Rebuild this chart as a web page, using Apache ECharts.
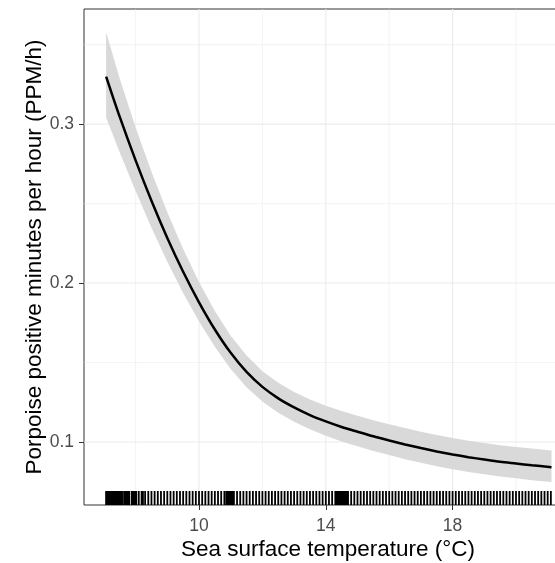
<!DOCTYPE html>
<html>
<head>
<meta charset="utf-8">
<script src="https://cdn.jsdelivr.net/npm/echarts@6/dist/echarts.min.js"></script>
<style>
  html, body { margin: 0; padding: 0; background: #fff; }
  #chart { width: 555px; height: 563px; }
</style>
</head>
<body>
<div id="chart"></div>
<script>
// fitted curve and its confidence band
const temps = [7.07, 7.5, 8, 8.5, 9, 9.5, 10, 10.5, 11, 11.5, 12, 12.5, 13, 13.5, 14, 14.5, 15, 15.5, 16, 16.5, 17, 17.5, 18, 18.5, 19, 19.5, 20, 20.5, 21.12]
const fit = [0.3299, 0.3045, 0.2772, 0.2518, 0.2284, 0.2071, 0.1879, 0.1708, 0.1561, 0.1441, 0.1347, 0.1275, 0.1218, 0.1170, 0.1130, 0.1095, 0.1065, 0.1036, 0.1010, 0.0985, 0.0962, 0.0941, 0.0922, 0.0905, 0.0890, 0.0876, 0.0865, 0.0854, 0.0842]
const upper = [0.3577, 0.3286, 0.2979, 0.2701, 0.2445, 0.2215, 0.2007, 0.1824, 0.1669, 0.1544, 0.1446, 0.1373, 0.1315, 0.1267, 0.1228, 0.1195, 0.1165, 0.1137, 0.1112, 0.1088, 0.1065, 0.1044, 0.1025, 0.1008, 0.0994, 0.0980, 0.0969, 0.0959, 0.0947]
const lower = [0.3042, 0.2822, 0.2579, 0.2348, 0.2134, 0.1937, 0.1759, 0.1599, 0.1460, 0.1345, 0.1255, 0.1184, 0.1128, 0.1080, 0.1040, 0.1004, 0.0973, 0.0944, 0.0918, 0.0892, 0.0869, 0.0848, 0.0829, 0.0812, 0.0797, 0.0783, 0.0772, 0.0760, 0.0748]

// rug of observed temperatures
const rugX = [
  7.1, 7.2, 7.3, 7.4, 7.5, 7.6, 7.7, 7.8, 7.9, 8.0,
  8.1, 8.2, 8.3, 8.4, 8.5, 8.6, 8.7, 8.8, 8.9, 9.0,
  9.1, 9.2, 9.3, 9.4, 9.5, 9.6, 9.7, 9.8, 9.9, 10.0,
  10.1, 10.2, 10.3, 10.4, 10.5, 10.6, 10.7, 10.8, 10.9, 11.0,
  11.1, 11.2, 11.3, 11.4, 11.5, 11.6, 11.7, 11.8, 11.9, 12.0,
  12.1, 12.2, 12.3, 12.4, 12.5, 12.6, 12.7, 12.8, 12.9, 13.0,
  13.1, 13.2, 13.3, 13.4, 13.5, 13.6, 13.7, 13.8, 13.9, 14.0,
  14.1, 14.2, 14.3, 14.4, 14.5, 14.6, 14.7, 14.8, 14.9, 15.0,
  15.1, 15.2, 15.3, 15.4, 15.5, 15.6, 15.7, 15.8, 15.9, 16.0,
  16.1, 16.2, 16.3, 16.4, 16.5, 16.6, 16.7, 16.8, 16.9, 17.0,
  17.1, 17.2, 17.3, 17.4, 17.5, 17.6, 17.7, 17.8, 17.9, 18.0,
  18.1, 18.2, 18.3, 18.4, 18.5, 18.6, 18.7, 18.8, 18.9, 19.0,
  19.1, 19.2, 19.3, 19.4, 19.5, 19.6, 19.7, 19.8, 19.9, 20.0,
  20.1, 20.2, 20.3, 20.4, 20.5, 20.6, 20.7, 20.8, 20.9, 21.0,
  21.1
]
// stretches where the rug is solid black
const rugBlocks = [[7.04, 7.58], [7.63, 7.82], [7.85, 8.05], [8.16, 8.26], [10.83, 11.11], [14.29, 14.72]]

// axis ticks and grid
const xTicks = [10, 14, 18]
const yTicks = [0.1, 0.2, 0.3]
const xMinor = [8, 12, 16, 20]
const yMinor = [0.15, 0.25, 0.35]

const font = '"Liberation Sans", Arial, sans-serif'
const chart = echarts.init(document.getElementById('chart'))

function gridLines(vals, dir, width) {
  return {
    type: 'custom',
    z: 1,
    silent: true,
    data: vals.map(v => [v]),
    renderItem: (params, api) => {
      const cs = params.coordSys
      let shape
      if (dir === 'x') {
        const p = api.coord([api.value(0), 0.2])
        shape = { x1: p[0], y1: cs.y, x2: p[0], y2: cs.y + cs.height }
      } else {
        const p = api.coord([10, api.value(0)])
        shape = { x1: cs.x, y1: p[1], x2: cs.x + cs.width, y2: p[1] }
      }
      return { type: 'line', shape: shape, style: { stroke: '#ebebeb', lineWidth: width } }
    }
  }
}

chart.setOption({
  backgroundColor: '#fff',
  animation: false,
  grid: {
    left: 84, top: 9, width: 488, bottom: 58,
    outerBoundsMode: 'none',
    containLabel: false,
    show: true, borderColor: '#333', borderWidth: 1, backgroundColor: 'transparent'
  },
  xAxis: {
    type: 'value',
    min: 6.372,
    max: 21.767,
    name: 'Sea surface temperature (°C)',
    nameLocation: 'middle',
    nameGap: 33,
    nameMoveOverlap: false,
    nameTextStyle: { fontFamily: font, fontSize: 22.5, color: '#000' },
    axisLine: { show: false },
    axisTick: { show: true, customValues: xTicks, length: 5, lineStyle: { color: '#333', width: 1 } },
    axisLabel: { customValues: xTicks, margin: 12, fontFamily: font, fontSize: 17.5, color: '#4d4d4d' },
    splitLine: { show: false }
  },
  yAxis: {
    type: 'value',
    min: 0.0604,
    max: 0.3724,
    name: 'Porpoise positive minutes per hour (PPM/h)',
    nameLocation: 'middle',
    nameGap: 38,
    nameRotate: 90,
    nameMoveOverlap: false,
    nameTextStyle: { fontFamily: font, fontSize: 22.5, color: '#000' },
    axisLine: { show: false },
    axisTick: { show: true, customValues: yTicks, length: 5, lineStyle: { color: '#333', width: 1 } },
    axisLabel: { customValues: yTicks, margin: 10, fontFamily: font, fontSize: 17.5, color: '#4d4d4d',
      formatter: v => v.toFixed(1) },
    splitLine: { show: false }
  },
  series: [
    gridLines(xMinor, 'x', 0.6),
    gridLines(yMinor, 'y', 0.6),
    gridLines(xTicks, 'x', 1.1),
    gridLines(yTicks, 'y', 1.1),
    {
      // confidence ribbon
      type: 'custom',
      z: 2,
      silent: true,
      data: [[temps[0], fit[0]]],
      renderItem: (params, api) => {
        const pts = []
        for (let i = 0; i < temps.length; i++) pts.push(api.coord([temps[i], upper[i]]))
        for (let i = temps.length - 1; i >= 0; i--) pts.push(api.coord([temps[i], lower[i]]))
        return { type: 'polygon', shape: { points: pts }, style: { fill: '#d9d9d9' } }
      }
    },
    {
      type: 'line',
      z: 3,
      data: temps.map((t, i) => [t, fit[i]]),
      smooth: 0.3,
      symbol: 'none',
      lineStyle: { color: '#000', width: 2.5 }
    },
    {
      // rug solid blocks
      type: 'custom',
      z: 4,
      silent: true,
      data: rugBlocks,
      renderItem: (params, api) => {
        const cs = params.coordSys
        const a = api.coord([api.value(0), 0.2])
        const b = api.coord([api.value(1), 0.2])
        const bottom = cs.y + cs.height
        return { type: 'rect', shape: { x: a[0], y: bottom - 14, width: b[0] - a[0], height: 14 }, style: { fill: '#000' } }
      }
    },
    {
      // rug ticks
      type: 'custom',
      z: 4,
      silent: true,
      data: rugX.map(v => [v]),
      renderItem: (params, api) => {
        const cs = params.coordSys
        const p = api.coord([api.value(0), 0.2])
        const bottom = cs.y + cs.height
        return { type: 'line', shape: { x1: p[0], y1: bottom - 14, x2: p[0], y2: bottom }, style: { stroke: '#000', lineWidth: 1.8 } }
      }
    }
  ]
})
</script>
</body>
</html>
